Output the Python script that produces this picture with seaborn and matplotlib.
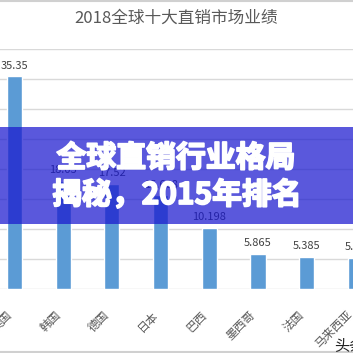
import pandas as pd
import matplotlib.pyplot as plt
import seaborn as sns
import matplotlib.patheffects as pe
from matplotlib.patches import Rectangle
from matplotlib.lines import Line2D

title = "2018全球十大直销市场业绩"
countries = ["美国", "韩国", "德国", "日本", "巴西", "墨西哥", "法国", "马来西亚"]
sales = [35.35, 18.03, 17.52, 15.608, 10.198, 5.865, 5.385, 5.21]
banner_lines = ["全球直销行业格局", "揭秘，2015年排名"]

sns.set_theme(style="white")
plt.rcParams['font.family'] = ['Noto Sans CJK SC', 'DejaVu Sans']

df = pd.DataFrame({"country": countries, "sales": sales})

W = H = 353
fig = plt.figure(figsize=(3.53, 3.53), dpi=100)
fig.patch.set_facecolor("white")

# axes reach past the left/right edges, like a cropped screenshot
ax_left, ax_right = -9.85, 379.75
ax_top, ax_bottom = 48.5, 289
ax = fig.add_axes([ax_left / W, 1 - ax_bottom / H,
                   (ax_right - ax_left) / W, (ax_bottom - ax_top) / H])
sns.barplot(data=df, x="country", y="sales", color="#5b9bd5", width=0.31,
            saturation=1, ax=ax, zorder=3)
ax.set_xlim(-0.5, len(countries) - 0.5)
ax.set_ylim(0, 40)
ax.set_yticks(range(0, 41, 5))
ax.yaxis.grid(True, color="#d9d9d9", linewidth=1)
ax.set_axisbelow(True)
for s in ax.spines.values():
    s.set_visible(False)
ax.tick_params(axis="y", left=False, labelleft=False)
ax.tick_params(axis="x", bottom=False, pad=8)
ax.set_xlabel("")
ax.set_ylabel("")
plt.setp(ax.get_xticklabels(), rotation=45, ha="right", rotation_mode="default",
         fontsize=8.5, color="#595959")
ax.bar_label(ax.containers[0], labels=[str(v) for v in sales], padding=4,
             fontsize=8, color="#404040")

fig.text(176.5 / W, 1 - 18 / H, title, ha="center", va="center",
         fontsize=12, color="#595959")

# chart frame lines at top and bottom
fig.add_artist(Line2D([0, 1], [1 - 0.8 / H] * 2, color="#d0d0d0", lw=1.5))
fig.add_artist(Line2D([0, 1], [1 - 351.8 / H] * 2, color="#d0d0d0", lw=1.5))

# translucent banner with headline
fig.add_artist(Rectangle((0, 1 - 224 / H), 1, 97 / H, transform=fig.transFigure,
                         facecolor="#1a18cf", alpha=0.72, edgecolor="none", zorder=10))
heavy = [pe.withStroke(linewidth=1.3, foreground="white")]
fig.text(176 / W, 1 - 158 / H, banner_lines[0], ha="center", va="center",
         fontsize=21.5, fontweight="bold", color="white", zorder=11,
         path_effects=heavy)
fig.text(177 / W, 1 - 195 / H, banner_lines[1], ha="center", va="center",
         fontsize=21.5, fontweight="bold", color="white", zorder=11,
         path_effects=heavy)

fig.text(334 / W, 1 - 346 / H, "头条", ha="left", va="center",
         fontsize=11, color="#222222", zorder=11)

fig.savefig("out.png", dpi=100)
